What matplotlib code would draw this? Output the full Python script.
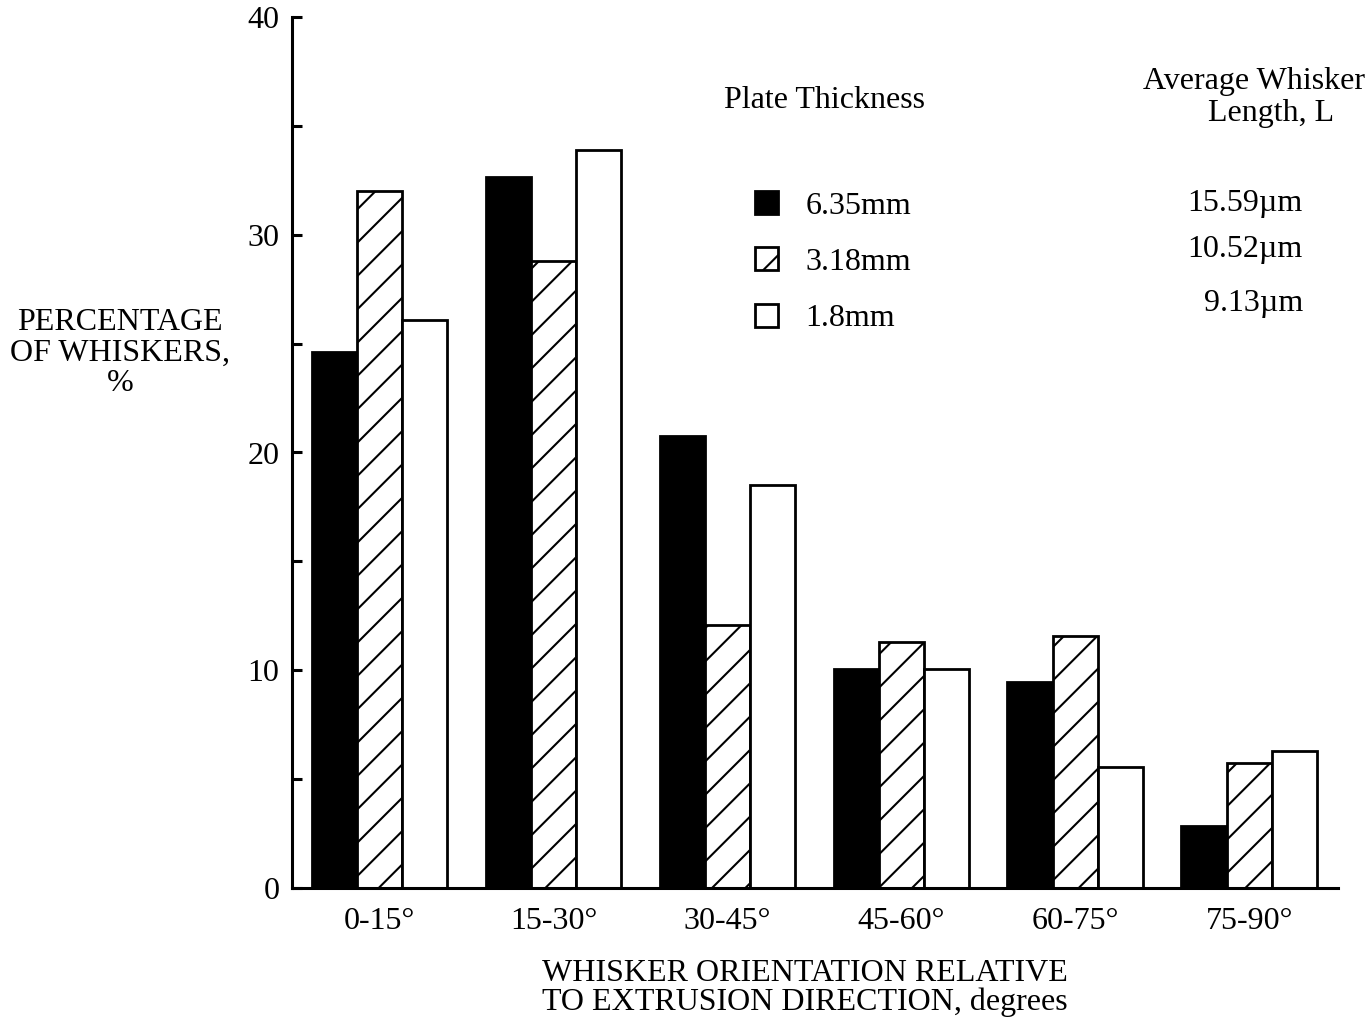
import matplotlib
matplotlib.use("Agg")
import matplotlib.pyplot as plt
import numpy as np

plt.rcParams['font.family'] = ['Liberation Serif', 'DejaVu Serif']
plt.rcParams['hatch.linewidth'] = 1.5

categories = ["0-15°", "15-30°", "30-45°", "45-60°", "60-75°", "75-90°"]
series_labels = ["6.35mm", "3.18mm", "1.8mm"]
lengths = ["15.59µm", "10.52µm", "9.13µm"]
thick_635 = [24.6, 32.65, 20.75, 10.05, 9.45, 2.85]
thick_318 = [32.0, 28.8, 12.1, 11.3, 11.55, 5.75]
thick_180 = [26.1, 33.9, 18.5, 10.05, 5.55, 6.3]

FS = 23

fig = plt.figure(figsize=(13.72, 10.25), dpi=100)
ax = fig.add_axes([292/1372, 137/1025, (1338-292)/1372, 871/1025])

x = np.arange(len(categories))
w = 0.26
styles = [dict(color='black', edgecolor='black'),
          dict(color='white', edgecolor='black', hatch='/'),
          dict(color='white', edgecolor='black')]
handles = []
for i, (vals, st) in enumerate(zip([thick_635, thick_318, thick_180], styles)):
    b = ax.bar(x + (i - 1) * w, vals, w, linewidth=2, **st)
    handles.append(b)

ax.set_xlim(-0.503, 5.51)
ax.set_ylim(0, 40)
ax.set_yticks([0, 10, 20, 30, 40])
ax.set_yticks([5, 15, 25, 35], minor=True)
ax.tick_params(axis='y', which='both', direction='in', length=7, width=2.2,
               labelsize=FS, pad=9)
ax.set_xticks(x)
ax.set_xticklabels(categories, fontsize=FS)
ax.tick_params(axis='x', length=0, pad=14)
for s in ['top', 'right']:
    ax.spines[s].set_visible(False)
ax.spines['left'].set_linewidth(2.2)
ax.spines['bottom'].set_linewidth(2.2)

fig.text(805/1372, 1 - 988/1025, "WHISKER ORIENTATION RELATIVE\nTO EXTRUSION DIRECTION, degrees",
         ha='center', va='center', fontsize=FS, linespacing=1.02)
fig.text(120/1372, 1 - 353/1025, "PERCENTAGE\nOF WHISKERS,\n%", ha='center', va='center',
         fontsize=FS, linespacing=1.07)

fig.text(825/1372, 1 - 100/1025, "Plate Thickness", ha='center', va='center', fontsize=FS)
fig.text(1254/1372, 1 - 82/1025, "Average Whisker", ha='center', va='center', fontsize=FS)
fig.text(1271/1372, 1 - 113/1025, "Length, L", ha='center', va='center', fontsize=FS)

leg = ax.legend(handles, series_labels, loc='upper left', bbox_to_anchor=(755/1372, 1 - 191/1025),
                bbox_transform=fig.transFigure, frameon=False, fontsize=FS,
                handlelength=0.72, handleheight=0.72, labelspacing=0.84, handletextpad=0.85,
                borderpad=0, borderaxespad=0)
for ys, t in zip([203, 250, 303], lengths):
    fig.text(1303/1372, 1 - ys/1025, t, ha='right', va='center', fontsize=FS)

fig.savefig("out.png", dpi=100)
